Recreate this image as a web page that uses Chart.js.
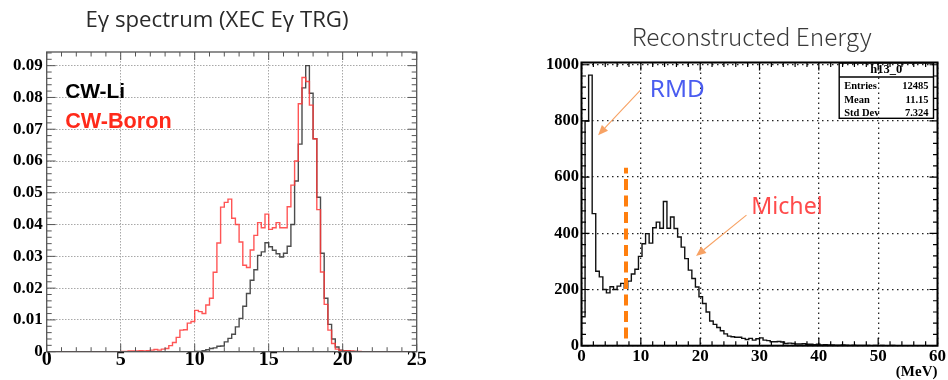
<!DOCTYPE html>
<html><head><meta charset="utf-8">
<script src="https://cdn.jsdelivr.net/npm/chart.js@4"></script>
<style>
html,body{margin:0;padding:0;background:#fff;width:948px;height:380px;overflow:hidden}
canvas{position:absolute;top:0}
#c1{left:0}#c2{left:474px}
</style></head>
<body>
<canvas id="c1" width="474" height="380"></canvas>
<canvas id="c2" width="474" height="380"></canvas>
<script>
// ---------------- Left panel data: Eγ spectrum, 100 bins of 0.25 from 0 to 25 ----------------
const leftTitle = 'Eγ spectrum (XEC Eγ TRG)';
const leftLabels = ['CW-Li', 'CW-Boron'];
const liBinWidth = 0.25;
const cwLi = [
  0,0,0,0,0,0,0,0,0,0,
  0,0,0,0,0,0,0,0,0,0,
  0,0,0,0,0,0,0,0,0,0,
  0,0,0,0,0,0,0,0,0,0,
  0.0001,0.0001,0.0003,0.0006,0.0010,0.0012,0.0017,0.0018,0.0031,0.0042,
  0.0055,0.0078,0.0105,0.0143,0.0183,0.0225,0.0258,0.0303,0.0314,0.0343,
  0.0330,0.0319,0.0308,0.0298,0.0310,0.0332,0.0400,0.0537,0.0653,0.0830,
  0.0900,0.0813,0.0670,0.0486,0.0310,0.0168,0.0086,0.0040,0.0015,0.0005,
  0.0003,0.0002,0.0001,0.0001,0,0,0,0,0,0,
  0,0,0,0,0,0,0,0,0,0
];
const cwBoron = [
  0,0,0,0,0,0,0,0,0,0,
  0,0,0,0,0,0,0,0,0,0,
  0.0001,0.0001,0.0002,0.0002,0.0002,0.0003,0.0002,0.0003,0.0005,0.0007,
  0.0005,0.0008,0.0010,0.0019,0.0029,0.0045,0.0068,0.0069,0.0090,0.0095,
  0.0130,0.0126,0.0120,0.0147,0.0168,0.0250,0.0342,0.0455,0.0470,0.0480,
  0.0420,0.0400,0.0345,0.0272,0.0265,0.0320,0.0366,0.0406,0.0390,0.0433,
  0.0385,0.0390,0.0406,0.0390,0.0390,0.0456,0.0524,0.0600,0.0780,0.0863,
  0.0850,0.0776,0.0670,0.0447,0.0251,0.0149,0.0068,0.0026,0.0008,0.0004,
  0.0003,0.0003,0.0002,0.0001,0.0001,0,0,0,0,0,
  0,0,0,0,0,0,0,0,0,0
];
const leftXTicks = [0, 5, 10, 15, 20, 25];
const leftYTicks = [0, 0.01, 0.02, 0.03, 0.04, 0.05, 0.06, 0.07, 0.08, 0.09];

// ---------------- Right panel data: Reconstructed Energy, 100 bins of 0.6 MeV ----------------
const rightTitle = 'Reconstructed Energy';
const recoBinWidth = 0.6;
const recoEnergy = [
  103,800,963,470,265,245,200,188,210,200,
  212,222,205,230,255,272,318,363,399,365,
  420,440,418,513,418,458,417,387,351,310,
  269,239,209,174,150,120,88,76,65,53,
  42,34,32,30,30,26,22,26,20,25,
  28,20,18,14,14,15,13,8,9,8,
  6,6,7,5,5,4,5,3,4,3,
  3,2,2,3,2,1,2,1,1,1,
  1,0,1,0,1,0,0,1,0,0,
  0,0,0,0,0,0,0,0,0,0
];
const rightXTicks = [0, 10, 20, 30, 40, 50, 60];
const rightYTicks = [0, 200, 400, 600, 800, 1000];
const rightXUnit = '(MeV)';
const statsName = 'h13_0';
const statsRows = [['Entries', '12485'], ['Mean', '11.15'], ['Std Dev', '7.324']];
const annotLabels = ['RMD', 'Michel'];
const cutEnergy = 7.5;
const cutRange = [26, 633];

// ---------------- helpers ----------------
function histPoints(values, width) {
  const pts = [{x: 0, y: 0}];
  values.forEach((v, i) => pts.push({x: i * width, y: v}));
  pts.push({x: values.length * width, y: values[values.length - 1]});
  pts.push({x: values.length * width, y: 0});
  return pts;
}
function fitFont(ctx, text, weight, family, targetW) {
  ctx.font = weight + ' 100px ' + family;
  const w = ctx.measureText(text).width;
  const s = 100 * targetW / w;
  ctx.font = weight + ' ' + s.toFixed(2) + 'px ' + family;
  return s;
}
function arrow(ctx, x0, y0, x1, y1, color) {
  ctx.save();
  ctx.strokeStyle = color; ctx.fillStyle = color; ctx.lineWidth = 1.1;
  const ang = Math.atan2(y1 - y0, x1 - x0), hl = 10, hw = 4.2;
  const bx = x1 - hl * Math.cos(ang), by = y1 - hl * Math.sin(ang);
  ctx.beginPath(); ctx.moveTo(x0, y0); ctx.lineTo(bx, by); ctx.stroke();
  ctx.beginPath(); ctx.moveTo(x1, y1);
  ctx.lineTo(bx + hw * Math.sin(ang), by - hw * Math.cos(ang));
  ctx.lineTo(bx - hw * Math.sin(ang), by + hw * Math.cos(ang));
  ctx.closePath(); ctx.fill();
  ctx.restore();
}
function frameTicks(o) {
  return function (chart) {
    const {ctx, chartArea: a, scales: {x, y}} = chart;
    ctx.save();
    ctx.strokeStyle = o.tickColor; ctx.lineWidth = o.tickWidth;
    ctx.beginPath();
    const nx = Math.round((x.max - x.min) / o.xMinor);
    for (let i = 0; i <= nx; i++) {
      const px = x.getPixelForValue(x.min + i * o.xMinor);
      const L = (i % o.xPer === 0) ? o.majX : o.minX;
      ctx.moveTo(px, a.bottom); ctx.lineTo(px, a.bottom - L);
      ctx.moveTo(px, a.top); ctx.lineTo(px, a.top + L);
    }
    const ny = Math.floor((y.max - y.min) / o.yMinor + 1e-6);
    for (let i = 0; i <= ny; i++) {
      const py = y.getPixelForValue(y.min + i * o.yMinor);
      const L = (i % o.yPer === 0) ? o.majY : o.minY;
      ctx.moveTo(a.left, py); ctx.lineTo(a.left + L, py);
      ctx.moveTo(a.right, py); ctx.lineTo(a.right - L, py);
    }
    ctx.stroke();
    ctx.lineWidth = o.frameWidth; ctx.strokeStyle = o.frameColor;
    ctx.strokeRect(a.left, a.top, a.right - a.left, a.bottom - a.top);
    ctx.restore();
  };
}
const tickFont = (size) => ({family: '"Liberation Serif", "DejaVu Serif", serif', weight: 'bold', size: size, lineHeight: 1});

// ---------------- Left chart ----------------
const leftFrame = frameTicks({tickColor: '#555', tickWidth: 1, frameColor: '#555', frameWidth: 1.3,
  xMinor: 1, xPer: 5, majX: 8, minX: 4.5, yMinor: 0.002, yPer: 5, majY: 9, minY: 5});
const leftDeco = {
  id: 'leftDeco',
  afterDatasetsDraw(chart) { leftFrame(chart); },
  afterDraw(chart) {
    const {ctx, chartArea: a} = chart;
    ctx.save();
    ctx.fillStyle = '#2a2a2a'; ctx.textAlign = 'center'; ctx.textBaseline = 'alphabetic';
    fitFont(ctx, leftTitle, '400', '"Open Sans", "Noto Sans", sans-serif', 263);
    ctx.fillText(leftTitle, 217, 26.5);
    ctx.textAlign = 'left';
    ctx.fillStyle = '#000';
    fitFont(ctx, leftLabels[0], 'bold', '"Liberation Sans", Arial, sans-serif', 60);
    ctx.fillText(leftLabels[0], a.left + 18.5, 98.3);
    ctx.fillStyle = '#ff2a1a';
    fitFont(ctx, leftLabels[1], 'bold', '"Liberation Sans", Arial, sans-serif', 106.5);
    ctx.fillText(leftLabels[1], a.left + 18.5, 128.3);
    ctx.restore();
  }
};
new Chart(document.getElementById('c1'), {
  type: 'line',
  data: {datasets: [
    {label: leftLabels[1], data: histPoints(cwBoron, liBinWidth), stepped: true,
     borderColor: 'rgba(255,55,55,0.85)', borderWidth: 1.4, pointRadius: 0, fill: false},
    {label: leftLabels[0], data: histPoints(cwLi, liBinWidth), stepped: true,
     borderColor: 'rgba(45,45,45,0.85)', borderWidth: 1.4, pointRadius: 0, fill: false}
  ]},
  options: {
    responsive: false, animation: false, events: [],
    layout: {padding: {left: 0, top: 52, right: 57.3, bottom: 0.3}},
    plugins: {legend: {display: false}, tooltip: {enabled: false}},
    scales: {
      x: {type: 'linear', min: 0, max: 25, bounds: 'data',
        afterFit: s => { s.height = 28; },
        afterBuildTicks: s => { s.ticks = leftXTicks.map(v => ({value: v})); },
        ticks: {autoSkip: false, maxRotation: 0, padding: -1.5, color: '#000', font: tickFont(20), callback: v => String(v)},
        grid: {drawTicks: false, color: '#a8a8a8', lineWidth: 1},
        border: {display: false, dash: [1.5, 1.5]}},
      y: {type: 'linear', min: 0, max: 0.0943, bounds: 'data',
        afterFit: s => { s.width = 46.7; },
        afterBuildTicks: s => { s.ticks = leftYTicks.map(v => ({value: v})); },
        ticks: {autoSkip: false, padding: 4, color: '#000', font: tickFont(17), callback: v => String(v)},
        grid: {drawTicks: false, color: '#a8a8a8', lineWidth: 1},
        border: {display: false, dash: [1.5, 1.5]}}
    }
  },
  plugins: [leftDeco]
});

// ---------------- Right chart ----------------
const rightFrame = frameTicks({tickColor: '#000', tickWidth: 1.2, frameColor: '#000', frameWidth: 2,
  xMinor: 2, xPer: 5, majX: 8, minX: 4.5, yMinor: 40, yPer: 5, majY: 8, minY: 4.5});
const rightDeco = {
  id: 'rightDeco',
  afterDatasetsDraw(chart) { rightFrame(chart); },
  afterDraw(chart) {
    const {ctx, chartArea: a, scales: {x, y}} = chart;
    ctx.save();
    // title
    ctx.fillStyle = '#3a3a3a'; ctx.textAlign = 'center'; ctx.textBaseline = 'alphabetic';
    fitFont(ctx, rightTitle, '300', '"Noto Sans CJK JP", "Noto Sans", sans-serif', 240);
    ctx.fillText(rightTitle, 277.7, 45.7);
    // stats box
    const bx1 = a.right - 4, bx0 = bx1 - 94.3, by0 = a.top + 0.5, by1 = 118.3, byt = 77;
    ctx.strokeStyle = '#000'; ctx.lineWidth = 1.4;
    ctx.strokeRect(bx0, by0, bx1 - bx0, by1 - by0);
    ctx.beginPath(); ctx.moveTo(bx0, byt); ctx.lineTo(bx1, byt); ctx.stroke();
    ctx.fillStyle = '#000';
    ctx.font = 'bold 12.5px "Liberation Serif", serif';
    ctx.textAlign = 'center';
    ctx.fillText(statsName, (bx0 + bx1) / 2, 73);
    ctx.font = 'bold 10.5px "Liberation Serif", serif';
    const rowY = [89.3, 102.7, 116.4];
    statsRows.forEach((r, i) => {
      ctx.textAlign = 'left'; ctx.fillText(r[0], bx0 + 5, rowY[i]);
      ctx.textAlign = 'right'; ctx.fillText(r[1], bx1 - 5, rowY[i]);
    });
    // annotations
    const arrowColor = '#f7a264';
    arrow(ctx, x.getPixelForValue(9.9), y.getPixelForValue(909), x.getPixelForValue(2.8), y.getPixelForValue(749), arrowColor);
    arrow(ctx, x.getPixelForValue(27.8), y.getPixelForValue(465), x.getPixelForValue(19.3), y.getPixelForValue(319), arrowColor);
    ctx.textAlign = 'left';
    ctx.fillStyle = '#4a5cf0';
    fitFont(ctx, annotLabels[0], '400', '"Noto Sans", sans-serif', 55);
    ctx.fillText(annotLabels[0], x.getPixelForValue(11.5), 97.3);
    ctx.fillStyle = '#ff4b4b';
    fitFont(ctx, annotLabels[1], '400', '"Noto Sans", sans-serif', 71.6);
    ctx.fillText(annotLabels[1], x.getPixelForValue(28.6), 214.3);
    ctx.restore();
  }
};
new Chart(document.getElementById('c2'), {
  type: 'line',
  data: {datasets: [
    {label: 'cut', data: [{x: cutEnergy, y: cutRange[0]}, {x: cutEnergy, y: cutRange[1]}],
     borderColor: '#ff7f0e', borderWidth: 4, borderDash: [11, 5.5], pointRadius: 0, fill: false, borderCapStyle: 'butt'},
    {label: 'h13_0', data: histPoints(recoEnergy, recoBinWidth), stepped: true,
     borderColor: '#111', borderWidth: 1.4, pointRadius: 0, fill: false}
  ]},
  options: {
    responsive: false, animation: false, events: [],
    layout: {padding: {left: 57.5, top: 62.5, right: 9.7, bottom: 0}},
    plugins: {legend: {display: false}, tooltip: {enabled: false}},
    scales: {
      x: {type: 'linear', min: 0, max: 60, bounds: 'data',
        afterFit: s => { s.height = 34.3; },
        afterBuildTicks: s => { s.ticks = rightXTicks.map(v => ({value: v})); },
        ticks: {autoSkip: false, maxRotation: 0, padding: 2, color: '#000', font: tickFont(17), callback: v => String(v)},
        grid: {drawTicks: false, color: '#222', lineWidth: 1.3},
        border: {display: false, dash: [1.5, 3.5]},
        title: {display: true, text: rightXUnit, align: 'end', color: '#000',
          font: {family: '"Liberation Serif", serif', weight: 'bold', size: 15, lineHeight: 1}, padding: 0}},
      y: {type: 'linear', min: 0, max: 1008, bounds: 'data',
        afterFit: s => { s.width = 50; },
        afterBuildTicks: s => { s.ticks = rightYTicks.map(v => ({value: v})); },
        ticks: {autoSkip: false, padding: 2.5, color: '#000', font: tickFont(16.5), callback: v => String(v)},
        grid: {drawTicks: false, color: '#222', lineWidth: 1.3},
        border: {display: false, dash: [1.5, 3.5]}}
    }
  },
  plugins: [rightDeco]
});
</script>
</body></html>
